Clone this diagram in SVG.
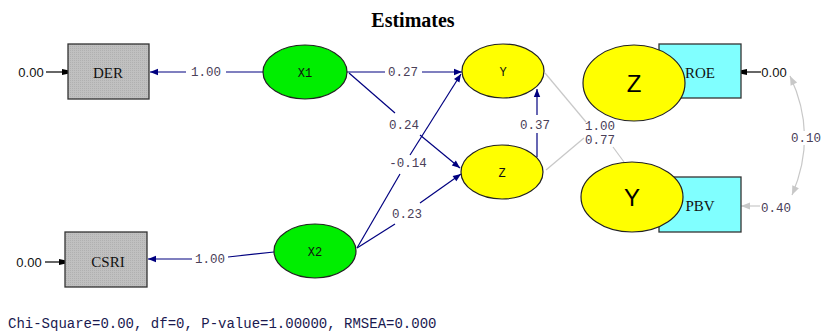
<svg xmlns="http://www.w3.org/2000/svg" width="826" height="336" viewBox="0 0 826 336">
  <style>
    .obs { fill: #c0c0c0; stroke: #333; stroke-width: 1.3; }
    .obs2 { fill: #80ffff; stroke: #333; stroke-width: 1.3; }
    .exo { fill: #00ee00; stroke: #222; stroke-width: 1.2; }
    .endo { fill: #ffff00; stroke: #222; stroke-width: 1.2; }
    .nlab { font-family: "Liberation Serif", serif; font-size: 15px; fill: #111; text-anchor: middle; }
    .vlab { font-family: "Liberation Mono", monospace; font-size: 12px; fill: #111; text-anchor: middle; }
    .big { font-family: "Liberation Sans", sans-serif; font-size: 24px; fill: #000; text-anchor: middle; }
    .num { font-family: "Liberation Mono", monospace; font-size: 12.5px; fill: #4a4058; text-anchor: middle; }
    .err { font-family: "Liberation Sans Narrow", "Liberation Sans", sans-serif; font-size: 13px; fill: #111; }
    .path { stroke: #000080; stroke-width: 1.2; fill: none; }
    .gray { stroke: #c8c8c8; stroke-width: 1.2; fill: none; }
  </style>
  <defs>
    <marker id="ah" viewBox="0 0 10 10" refX="10" refY="5" markerWidth="9" markerHeight="8" markerUnits="userSpaceOnUse" orient="auto">
      <path d="M0,1 L10,5 L0,9 z" fill="#000080"/>
    </marker>
    <marker id="ahb" viewBox="0 0 10 10" refX="10" refY="5" markerWidth="8" markerHeight="6" markerUnits="userSpaceOnUse" orient="auto">
      <path d="M0,0 L10,2 L10,8 L0,10 z" fill="#000"/>
    </marker>
    <marker id="ahg" viewBox="0 0 10 10" refX="10" refY="5" markerWidth="11" markerHeight="9" markerUnits="userSpaceOnUse" orient="auto-start-reverse">
      <path d="M0,1 L10,5 L0,9 z" fill="#c8c8c8"/>
    </marker>
    <pattern id="grain" width="2" height="2" patternUnits="userSpaceOnUse">
      <rect width="2" height="2" fill="#c0c0c0"/>
      <rect width="1" height="1" fill="#b0b0b0"/>
    </pattern>
  </defs>

  <text x="413" y="27" font-family="Liberation Serif, serif" font-size="20" font-weight="bold" text-anchor="middle" fill="#000">Estimates</text>

  <g id="connectors">
    <!-- error arrows on observed variables -->
    <line x1="46" y1="72" x2="68" y2="72" stroke="#000" stroke-width="1.2" marker-end="url(#ahb)"/>
    <line x1="45" y1="262" x2="65" y2="262" stroke="#000" stroke-width="1.2" marker-end="url(#ahb)"/>
    <line x1="761" y1="72" x2="741" y2="72" stroke="#000" stroke-width="1.2" marker-end="url(#ahb)"/>
    <line x1="760" y1="206" x2="741" y2="206" class="gray" marker-end="url(#ahg)"/>

    <!-- loadings -->
    <line x1="264" y1="72" x2="226" y2="72" class="path"/>
    <line x1="186" y1="72" x2="150" y2="72" class="path" marker-end="url(#ah)"/>
    <text x="206" y="76" class="num">1.00</text>

    <line x1="274" y1="252" x2="228" y2="257" class="path"/>
    <line x1="192" y1="259" x2="148" y2="259" class="path" marker-end="url(#ah)"/>
    <text x="210" y="263" class="num">1.00</text>

    <!-- structural paths -->
    <line x1="347" y1="72" x2="385" y2="72" class="path"/>
    <line x1="422" y1="72" x2="462" y2="72" class="path" marker-end="url(#ah)"/>
    <text x="403" y="76" class="num">0.27</text>

    <line x1="349" y1="73" x2="395" y2="113" class="path"/>
    <line x1="420" y1="135" x2="460" y2="168" class="path" marker-end="url(#ah)"/>
    <text x="404" y="129" class="num">0.24</text>

    <line x1="357" y1="248" x2="400" y2="174" class="path"/>
    <line x1="410" y1="155" x2="461" y2="74" class="path" marker-end="url(#ah)"/>
    <text x="408" y="167" class="num">-0.14</text>

    <line x1="357" y1="248" x2="395" y2="224" class="path"/>
    <line x1="420" y1="203" x2="461" y2="174" class="path" marker-end="url(#ah)"/>
    <text x="407" y="218" class="num">0.23</text>

    <line x1="537" y1="157" x2="537" y2="133" class="path"/>
    <line x1="537" y1="115" x2="537" y2="89" class="path" marker-end="url(#ah)"/>
    <text x="535" y="129" class="num">0.37</text>

    <!-- gray links to the right-side variables -->
    <line x1="545" y1="73" x2="586" y2="122" class="gray"/>
    <line x1="613" y1="147" x2="624" y2="162" class="gray"/>
    <text x="600" y="130" class="num">1.00</text>
    <line x1="546" y1="170" x2="584" y2="138" class="gray"/>
    <text x="600" y="144" class="num">0.77</text>

    <!-- error covariance -->
    <path d="M790,76 Q818,135 792,195" class="gray" marker-start="url(#ahg)" marker-end="url(#ahg)"/>
    <rect x="790" y="131" width="30" height="14" fill="#fff"/>
    <text x="806" y="142" class="num">0.10</text>
  </g>

  <g id="DER">
    <rect x="68" y="44" width="81" height="55" class="obs" style="fill:url(#grain)"/>
    <text x="108" y="78" class="nlab">DER</text>
    <text x="31" y="77" class="err" text-anchor="middle">0.00</text>
  </g>
  <g id="CSRI">
    <rect x="65" y="232" width="82" height="55" class="obs" style="fill:url(#grain)"/>
    <text x="108" y="267" class="nlab">CSRI</text>
    <text x="29" y="267" class="err" text-anchor="middle">0.00</text>
  </g>
  <g id="X1">
    <ellipse cx="305" cy="72" rx="42" ry="27" class="exo"/>
    <text x="305" y="77" class="vlab">X1</text>
  </g>
  <g id="X2">
    <ellipse cx="315" cy="251" rx="41" ry="27" class="exo"/>
    <text x="315" y="256" class="vlab">X2</text>
  </g>
  <g id="Y">
    <ellipse cx="503" cy="71" rx="41" ry="27" class="endo"/>
    <text x="503" y="76" class="vlab">Y</text>
  </g>
  <g id="Z">
    <ellipse cx="502" cy="172" rx="41" ry="27" class="endo"/>
    <text x="502" y="177" class="vlab">Z</text>
  </g>
  <g id="ROE">
    <rect x="659" y="44" width="82" height="54" class="obs2"/>
    <text x="700" y="78" class="nlab">ROE</text>
    <text x="774" y="77" class="err" text-anchor="middle">0.00</text>
  </g>
  <g id="PBV">
    <rect x="659" y="177" width="82" height="55" class="obs2"/>
    <text x="700" y="211" class="nlab">PBV</text>
    <text x="776" y="212" class="num">0.40</text>
  </g>
  <g id="Z-big">
    <ellipse cx="634" cy="83" rx="51" ry="38" class="endo"/>
    <text x="634" y="92" class="big">Z</text>
  </g>
  <g id="Y-big">
    <ellipse cx="632" cy="197" rx="51" ry="35" class="endo"/>
    <text x="632" y="206" class="big">Y</text>
  </g>

  <text x="8" y="328" font-family="Liberation Mono, monospace" font-size="14" fill="#1a1a50">Chi-Square=0.00, df=0, P-value=1.00000, RMSEA=0.000</text>
</svg>
